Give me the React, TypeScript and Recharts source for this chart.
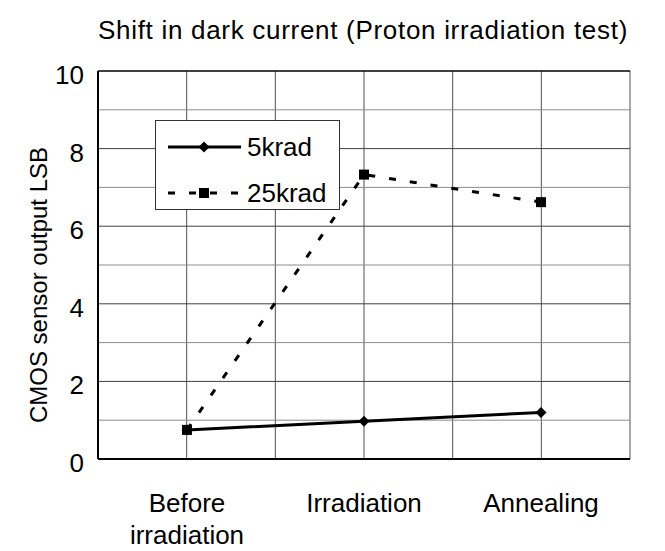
import React from 'react';
import {
  LineChart,
  Line,
  XAxis,
  YAxis,
  CartesianGrid,
  ReferenceLine,
  Label,
} from 'recharts';

/* ─── Data ────────────────────────────────────────────────────────────── */

const CATEGORIES = ['Before irradiation', 'Irradiation', 'Annealing'];
const KRAD_5 = [0.75, 0.97, 1.2];
const KRAD_25 = [0.75, 7.33, 6.62];
const MAJOR_TICKS = [0, 2, 4, 6, 8, 10];
const MINOR_TICKS = [1, 3, 5, 7, 9];
const SERIES_NAMES = ['5krad', '25krad'];

const data = CATEGORIES.map((name, i) => ({ name, k5: KRAD_5[i], k25: KRAD_25[i] }));

/* ─── Style ───────────────────────────────────────────────────────────── */

const FONT = '"Liberation Sans", Arial, sans-serif';
const FS = 26;
const INK = '#000';
const DASH = '7 14';
const PAD = 89; // half a category band

/* ─── Markers ─────────────────────────────────────────────────────────── */

// eslint-disable-next-line @typescript-eslint/no-explicit-any
const Diamond = (props: any) => {
  const { cx, cy } = props;
  if (typeof cx !== 'number' || typeof cy !== 'number') return <g key={props.key} />;
  const r = 5.5;
  return (
    <path
      key={props.key}
      d={`M${cx},${cy - r}L${cx + r},${cy}L${cx},${cy + r}L${cx - r},${cy}Z`}
      fill={INK}
    />
  );
};

// eslint-disable-next-line @typescript-eslint/no-explicit-any
const Square = (props: any) => {
  const { cx, cy } = props;
  if (typeof cx !== 'number' || typeof cy !== 'number') return <g key={props.key} />;
  const h = 5;
  return <rect key={props.key} x={cx - h} y={cy - h} width={h * 2} height={h * 2} fill={INK} />;
};

/* ─── Ticks ───────────────────────────────────────────────────────────── */

// eslint-disable-next-line @typescript-eslint/no-explicit-any
const YTick = (props: any) => {
  const { x, y, payload } = props;
  return (
    <text x={x} y={y + 13} textAnchor="end" fontSize={FS} fontFamily={FONT} fill={INK}>
      {payload.value}
    </text>
  );
};

// long labels go one word per line, like the Excel original
// eslint-disable-next-line @typescript-eslint/no-explicit-any
const XTick = (props: any) => {
  const { x, y, payload } = props;
  const s = String(payload.value);
  const lines = s.length > 12 ? s.split(' ') : [s];
  return (
    <text x={x} y={y + 53} textAnchor="middle" fontSize={FS} fontFamily={FONT} fill={INK}>
      {lines.map((ln, i) => (
        <tspan key={i} x={x} dy={i === 0 ? 0 : 32}>
          {ln}
        </tspan>
      ))}
    </text>
  );
};

/* ─── Legend ──────────────────────────────────────────────────────────── */

function LegendBox() {
  return (
    <div
      style={{
        position: 'absolute',
        left: 155,
        top: 120,
        width: 185,
        height: 90,
        border: '1px solid #333',
        background: '#fff',
        boxSizing: 'border-box',
        fontFamily: FONT,
        fontSize: FS,
        color: INK,
        paddingTop: 3,
      }}
    >
      {SERIES_NAMES.map((label, i) => (
        <div key={label} style={{ display: 'flex', alignItems: 'center', height: 46 }}>
          <svg width={91} height={20} style={{ display: 'block' }}>
            <line
              x1={12}
              y1={10}
              x2={85}
              y2={10}
              stroke={INK}
              strokeWidth={3}
              strokeDasharray={i === 1 ? DASH : undefined}
            />
            {i === 0 ? (
              <path d="M48,4.5L53.5,10L48,15.5L42.5,10Z" fill={INK} />
            ) : (
              <rect x={43} y={5} width={10} height={10} fill={INK} />
            )}
          </svg>
          <span style={{ lineHeight: 1 }}>{label}</span>
        </div>
      ))}
    </div>
  );
}

/* ─── Main ────────────────────────────────────────────────────────────── */

export default function App() {
  return (
    <div
      style={{
        position: 'absolute',
        left: 0,
        top: 0,
        width: 665,
        height: 551,
        overflow: 'hidden',
        background: '#fff',
      }}
    >
      <div
        style={{
          position: 'absolute',
          left: 0,
          top: 15,
          width: 726,
          textAlign: 'center',
          fontFamily: FONT,
          fontSize: FS,
          lineHeight: '30px',
          letterSpacing: 0.7,
          color: INK,
          whiteSpace: 'nowrap',
        }}
      >
        Shift in dark current (Proton irradiation test)
      </div>
      <div style={{ position: 'absolute', left: 0, top: 0 }}>
        <LineChart
          width={665}
          height={551}
          data={data}
          margin={{ top: 71, right: 35, bottom: 0, left: 0 }}
        >
          <CartesianGrid
            stroke="#505050"
            strokeWidth={1}
            verticalCoordinatesGenerator={({ offset }: any) =>
              Array.from({ length: 7 }, (_, k) => offset.left + (offset.width * k) / 6)
            }
            horizontal={false}
          />
          {MINOR_TICKS.map((v) => (
            <ReferenceLine key={v} y={v} stroke="#8c8c8c" strokeWidth={1} />
          ))}
          {MAJOR_TICKS.slice(1, -1).map((v) => (
            <ReferenceLine key={v} y={v} stroke="#404040" strokeWidth={1} />
          ))}
          <ReferenceLine y={10} stroke={INK} strokeWidth={1.5} />
          <XAxis
            dataKey="name"
            type="category"
            height={92}
            padding={{ left: PAD, right: PAD }}
            axisLine={{ stroke: INK, strokeWidth: 2 }}
            tickLine={false}
            tickSize={0}
            tickMargin={0}
            tick={<XTick />}
            interval={0}
          />
          <YAxis
            type="number"
            domain={[0, 10]}
            ticks={MAJOR_TICKS}
            width={98}
            axisLine={{ stroke: INK, strokeWidth: 2 }}
            tickLine={false}
            tickSize={0}
            tickMargin={14}
            tick={<YTick />}
            allowDataOverflow
          >
            <Label
              content={({ viewBox }: any) => {
                const cx = viewBox.x + 38;
                const cy = viewBox.y + viewBox.height / 2 + 20;
                return (
                  <text
                    x={cx}
                    y={cy}
                    transform={`rotate(-90, ${cx}, ${cy})`}
                    textAnchor="middle"
                    dominantBaseline="central"
                    fontSize={24}
                    fontFamily={FONT}
                    fill={INK}
                  >
                    CMOS sensor output LSB
                  </text>
                );
              }}
            />
          </YAxis>
          <Line
            dataKey="k5"
            name={SERIES_NAMES[0]}
            stroke={INK}
            strokeWidth={3}
            dot={<Diamond />}
            activeDot={false}
            isAnimationActive={false}
          />
          <Line
            dataKey="k25"
            name={SERIES_NAMES[1]}
            stroke={INK}
            strokeWidth={3}
            strokeDasharray={DASH}
            dot={<Square />}
            activeDot={false}
            isAnimationActive={false}
          />
        </LineChart>
      </div>
      <LegendBox />
    </div>
  );
}
